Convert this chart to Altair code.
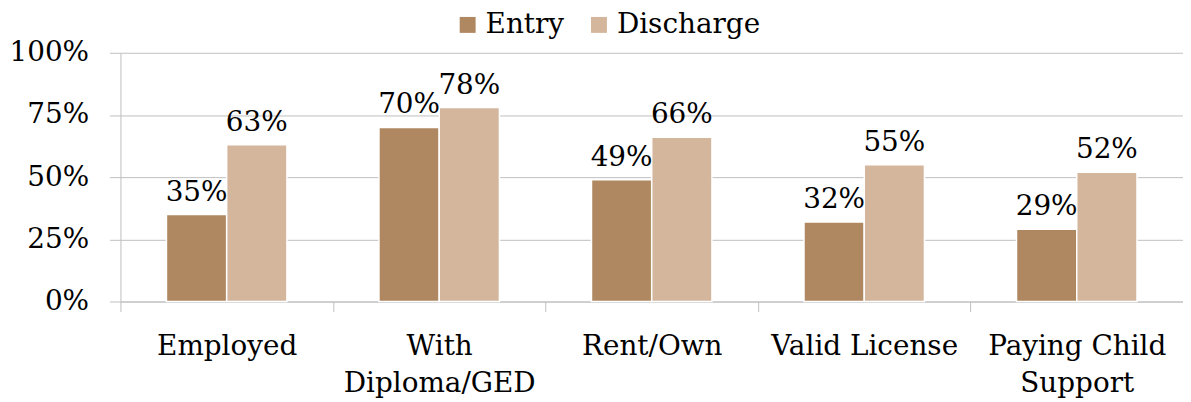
import altair as alt
import pandas as pd

categories = ["Employed", "With|Diploma/GED", "Rent/Own", "Valid License", "Paying Child|Support"]
entry = [0.35, 0.70, 0.49, 0.32, 0.29]
discharge = [0.63, 0.78, 0.66, 0.55, 0.52]
series = ["Entry", "Discharge"]
colors = ["#AF8862", "#D4B69C"]
y_ticks = [0, 0.25, 0.5, 0.75, 1.0]

rows = []
for c, e, d in zip(categories, entry, discharge):
    rows.append({"category": c, "series": "Entry", "value": e})
    rows.append({"category": c, "series": "Discharge", "value": d})
df = pd.DataFrame(rows)

FONT = "DejaVu Serif"
FS = 28
GRID = "#C0C0C0"

x = alt.X(
    "category:N", sort=categories, title=None,
    scale=alt.Scale(paddingInner=0, paddingOuter=0),
    axis=alt.Axis(
        labelExpr="split(datum.label, '|')", labelAngle=0, labelFontSize=FS,
        labelFont=FONT, labelColor="black", labelPadding=21, labelLineHeight=37,
        labelBaseline="top", labelLimit=0, tickSize=10, tickColor=GRID,
        domainColor=GRID, tickBand="extent", grid=False,
    ),
)
xo = alt.XOffset("series:N", sort=series, scale=alt.Scale(paddingOuter=0.764, paddingInner=0))
y = alt.Y(
    "value:Q", scale=alt.Scale(domain=[0, 1]),
    axis=alt.Axis(
        values=y_ticks, format=".0%", title=None, labelFontSize=FS, labelFont=FONT,
        labelColor="black", tickSize=11, labelPadding=21, tickColor=GRID,
        gridColor=GRID, domainColor=GRID, grid=True,
    ),
)
color = alt.Color(
    "series:N", sort=series,
    scale=alt.Scale(domain=series, range=colors),
    legend=alt.Legend(
        title=None, orient="none", legendX=335, legendY=-42, direction="horizontal",
        symbolType="square", symbolSize=256, labelFontSize=FS, labelFont=FONT,
        labelColor="black", labelOffset=4, columnPadding=21, padding=0,
        symbolStrokeWidth=0, labelLimit=0,
    ),
)

bars = alt.Chart(df).mark_bar(stroke="white", strokeWidth=1.5).encode(
    x=x, xOffset=xo, y=y, color=color
)
labels = alt.Chart(df).mark_text(
    font=FONT, fontSize=FS, baseline="alphabetic", dy=-14, color="black"
).encode(
    x=x, xOffset=xo, y=y, text=alt.Text("value:Q", format=".0%")
)

chart = alt.layer(bars, labels).properties(
    width=1068, height=250,
    padding={"left": 113, "top": 44, "right": 0, "bottom": 100},
    autosize="none",
).configure_view(stroke=None)

chart.save("out.html", embed_options={"renderer": "svg", "actions": False})
